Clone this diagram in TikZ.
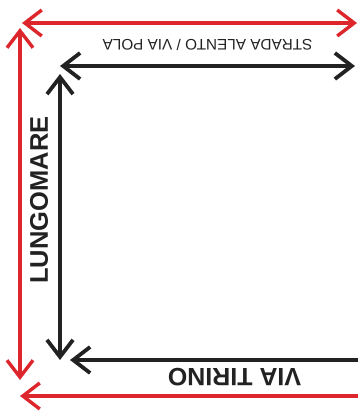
\documentclass[tikz,border=0pt]{standalone}
\usepackage{fontspec}
\setmainfont{Liberation Sans}
\usepackage{tikz}
\usetikzlibrary{arrows.meta}
\definecolor{RoadRed}{RGB}{221,38,44}
\definecolor{RoadBlack}{RGB}{34,34,34}

\begin{document}
\begin{tikzpicture}[
 x=1pt, y=-1pt,
 outer/.style={draw=RoadRed, line width=3.4pt},
 inner/.style={draw=RoadBlack, line width=3.8pt},
 barb/.style={{Straight Barb[length=17pt,width=26pt]}-{Straight Barb[length=17pt,width=26pt]}},
 lbarb/.style={{Straight Barb[length=17pt,width=26pt]}-},
 street/.style={inner sep=0pt, text=RoadBlack}
]
\useasboundingbox (0,0) rectangle (358,417);
% outer red frame
\coordinate (rtl) at (22,23);
\coordinate (rtr) at (357,23);
\coordinate (rlt) at (20,28);
\coordinate (rlb) at (20,380);
\coordinate (rbl) at (20,396);
\coordinate (rbr) at (358,396);
% inner black frame
\coordinate (btl) at (60,66);
\coordinate (btr) at (355,66);
\coordinate (blt) at (60,74);
\coordinate (blb) at (60,360);
\coordinate (bbl) at (70,360);
\coordinate (bbr) at (358,360);

\draw[outer, barb] (rtl) -- (rtr);
\draw[outer, barb] (rlt) -- (rlb);
\draw[outer, lbarb] (rbl) -- (rbr);
\draw[inner, barb] (btl) -- (btr);
\draw[inner, barb] (blt) -- (blb);
\draw[inner, lbarb] (bbl) -- (bbr);

\node[street, rotate=180, font=\fontsize{15.3}{16}\selectfont] (strada) at (207.5,45) {STRADA ALENTO / VIA POLA};
\node[street, rotate=180, font=\fontsize{25}{26}\bfseries] (tirino) at (234.5,377.5) {VIA TIRINO};
\node[street, rotate=90, font=\fontsize{25.5}{26}\bfseries] (lungo) at (39,200) {LUNGOMARE};
\end{tikzpicture}
\end{document}
